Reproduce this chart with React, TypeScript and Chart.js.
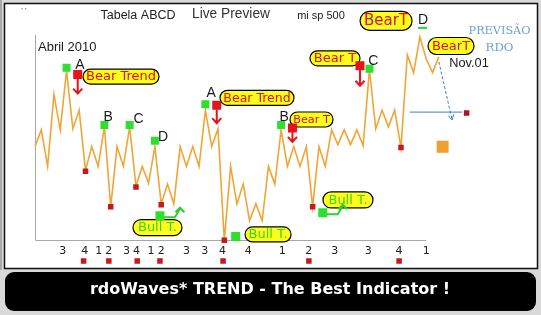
import React, { useEffect, useRef } from 'react';
import { Chart, registerables } from 'chart.js';

Chart.register(...registerables);

// ---- data (x = wave bar index, y = price level in chart units) ----
const price = [
  95, 112, 75, 148, 112, 172, 113, 132, 71, 95,
  75, 115, 34, 95, 75, 115, 55, 75, 58, 95,
  37, 57, 37, 95, 75, 95, 75, 132, 95, 113,
  0, 75, 37, 57, 20, 37, 20, 75, 57, 112,
  75, 95, 75, 95, 34, 95, 75, 112, 97, 112,
  97, 112, 96, 173, 113, 132, 115, 132, 94, 188,
  170, 206, 184, 170, 186,
];

const waveTickPos = [4.4, 7.9, 10.1, 11.7, 14.5, 16.1, 18.4, 20, 24, 26.9, 29.7, 33.8, 39.2, 43.4, 47.5, 52.8, 57.7, 62];
const waveTickText = ['3', '4', '1', '2', '3', '4', '1', '2', '3', '3', '4', '4', '1', '2', '3', '3', '4', '1'];

const pivotX = [5, 11, 15, 19, 27, 39, 53];
const pivotY = [175, 117, 117, 101, 138, 117, 174];

const letterText = ['A', 'B', 'C', 'D', 'A', 'B', 'C', 'D'];
const letterX = [7.13, 11.6, 16.4, 20.3, 27.9, 39.5, 53.6, 61.5];
const letterY = [178, 125, 123, 105, 149.5, 124.5, 181.5, 223];

const bearX = [6.77, 28.8, 40.8, 51.5];
const bearY = [168, 137, 114, 177];

const bullX = [19.8, 31.8, 45.6];
const bullY = [25, 4, 28];

const troughX = [8, 12, 16, 20, 30, 44, 58];
const troughY = [70, 34, 54, 36, 0, 34, 94];

const countMarkX = [7.7, 11.7, 16.2, 19.8, 29.8, 43.4, 57.7];
const countMarkY = [-21, -21, -21, -21, -21, -21, -21];

const targetX = [68.4];
const targetY = [129];

const projX = [64.6];
const projY = [95];

const levelX = [59.4, 67.7];
const levelY = [130, 130];

const arrowX = [64.0, 66.1];
const arrowY = [181, 122];

const pillText = ['Bear Trend', 'Bear Trend', 'Bear T', 'Bear T', 'BearT', 'BearT', 'Bull T.', 'Bull T.', 'Bull T.'];
const pillX = [13.63, 35.18, 43.82, 47.54, 55.63, 65.93, 19.41, 36.93, 49.6];
const pillY = [166, 144.5, 122.5, 184.5, 222.5, 197, 13, 6, 41];

// ---- styles ----
const pillW = [76, 74, 43, 50, 52, 46, 49, 46, 50];
const pillH = [15, 15, 15, 15, 19, 17, 16, 15, 16];
const bearArrowLen = [15, 14, 10, 16];
const hookBull = [true, false, true];

const W = 541;
const H = 315;
const ORANGE = '#f0a637';
const GREEN = '#2ee02e';
const RED = '#e4141a';
const DARKRED = '#c41a1e';

const pts = (xs: number[], ys: number[]) => xs.map((x, i) => ({ x, y: ys[i] }));

function fitFont(ctx: CanvasRenderingContext2D, text: string, family: string, weight: string, size: number, maxW: number) {
  let s = size;
  ctx.font = `${weight} ${s}px ${family}`;
  while (ctx.measureText(text).width > maxW && s > 6) {
    s -= 0.25;
    ctx.font = `${weight} ${s}px ${family}`;
  }
}

function rrect(ctx: CanvasRenderingContext2D, x: number, y: number, w: number, h: number, r: number) {
  ctx.beginPath();
  ctx.moveTo(x + r, y);
  ctx.lineTo(x + w - r, y);
  ctx.arcTo(x + w, y, x + w, y + r, r);
  ctx.lineTo(x + w, y + h - r);
  ctx.arcTo(x + w, y + h, x + w - r, y + h, r);
  ctx.lineTo(x + r, y + h);
  ctx.arcTo(x, y + h, x, y + h - r, r);
  ctx.lineTo(x, y + r);
  ctx.arcTo(x, y, x + r, y, r);
  ctx.closePath();
}

function text(ctx: CanvasRenderingContext2D, t: string, x: number, y: number, color: string, family: string, weight: string, size: number, maxW: number, align: CanvasTextAlign = 'center') {
  fitFont(ctx, t, family, weight, size, maxW);
  ctx.fillStyle = color;
  ctx.textAlign = align;
  ctx.textBaseline = 'middle';
  ctx.fillText(t, x, y);
}

const decor = {
  id: 'decor',
  beforeDraw(chart: any) {
    const ctx: CanvasRenderingContext2D = chart.ctx;
    ctx.save();
    ctx.fillStyle = '#d9d9d9';
    ctx.fillRect(0, 0, W, H);
    ctx.fillStyle = '#a9a9a9';
    ctx.fillRect(0, 0, 2, 270);
    ctx.fillStyle = '#ffffff';
    ctx.fillRect(4, 3, 533, 265);
    ctx.strokeStyle = '#111';
    ctx.lineWidth = 1.5;
    ctx.strokeRect(4.5, 3.5, 533, 265);
    // banner
    rrect(ctx, 5, 272, 531, 39, 9);
    ctx.fillStyle = '#000';
    ctx.fill();
    text(ctx, 'rdoWaves* TREND - The Best Indicator !', 270, 290, '#fff', '"DejaVu Sans"', 'bold', 18, 362);
    ctx.restore();
  },
  beforeDatasetsDraw(chart: any) {
    const ctx: CanvasRenderingContext2D = chart.ctx;
    const xs = chart.scales.x;
    const ys = chart.scales.y;
    ctx.save();
    // axes
    ctx.strokeStyle = '#a8a8a8';
    ctx.lineWidth = 1;
    ctx.beginPath();
    const x0 = Math.round(xs.getPixelForValue(0)) + 0.5;
    const y0 = Math.round(ys.getPixelForValue(0)) + 0.5;
    ctx.moveTo(x0, Math.round(ys.getPixelForValue(208)));
    ctx.lineTo(x0, y0);
    ctx.lineTo(xs.getPixelForValue(62), y0);
    ctx.stroke();
    // pills
    pillText.forEach((t, i) => {
      const cx = xs.getPixelForValue(pillX[i]);
      const cy = ys.getPixelForValue(pillY[i]);
      const w = pillW[i];
      const h = pillH[i];
      rrect(ctx, cx - w / 2, cy - h / 2, w, h, h / 2);
      ctx.fillStyle = '#ffff1a';
      ctx.fill();
      ctx.strokeStyle = '#000';
      ctx.lineWidth = 1.2;
      ctx.stroke();
      const bull = t.startsWith('Bull');
      text(ctx, t, cx, cy + 0.5, bull ? '#33d62a' : '#e01010', '"DejaVu Sans"', 'normal', h >= 19 ? 15 : 13, w - 6);
    });
    ctx.restore();
  },
  afterDatasetsDraw(chart: any) {
    const ctx: CanvasRenderingContext2D = chart.ctx;
    const xs = chart.scales.x;
    const ys = chart.scales.y;
    ctx.save();
    // red down arrows under bear squares
    ctx.strokeStyle = RED;
    ctx.lineWidth = 2;
    bearX.forEach((bx, i) => {
      const x = xs.getPixelForValue(bx);
      const y = ys.getPixelForValue(bearY[i]) + 4;
      const y1 = y + bearArrowLen[i];
      ctx.beginPath();
      ctx.moveTo(x, y);
      ctx.lineTo(x, y1);
      ctx.moveTo(x - 4.5, y1 - 5);
      ctx.lineTo(x, y1);
      ctx.lineTo(x + 4.5, y1 - 5);
      ctx.stroke();
    });
    // green hooked arrows after bull squares
    ctx.strokeStyle = '#2fcf2f';
    ctx.lineWidth = 2;
    bullX.forEach((bx, i) => {
      if (!hookBull[i]) return;
      const cx = xs.getPixelForValue(bx);
      const cy = ys.getPixelForValue(bullY[i]);
      ctx.beginPath();
      ctx.moveTo(cx + 4, cy + 1.5);
      ctx.lineTo(cx + 15, cy + 1.5);
      ctx.lineTo(cx + 20, cy - 7);
      ctx.moveTo(cx + 15.5, cy - 3.5);
      ctx.lineTo(cx + 20, cy - 8);
      ctx.lineTo(cx + 24.5, cy - 3.5);
      ctx.stroke();
    });
    // blue arrow head
    {
      const ax0 = xs.getPixelForValue(arrowX[0]);
      const ay0 = ys.getPixelForValue(arrowY[0]);
      const ax1 = xs.getPixelForValue(arrowX[1]);
      const ay1 = ys.getPixelForValue(arrowY[1]);
      const ang = Math.atan2(ay1 - ay0, ax1 - ax0);
      ctx.strokeStyle = '#3b7fc4';
      ctx.lineWidth = 1;
      ctx.beginPath();
      ctx.moveTo(ax1 - 6 * Math.cos(ang - 0.5), ay1 - 6 * Math.sin(ang - 0.5));
      ctx.lineTo(ax1, ay1);
      ctx.lineTo(ax1 - 6 * Math.cos(ang + 0.5), ay1 - 6 * Math.sin(ang + 0.5));
      ctx.stroke();
    }
    // wave letters
    letterText.forEach((t, i) => {
      const x = xs.getPixelForValue(letterX[i]);
      const y = ys.getPixelForValue(letterY[i]);
      text(ctx, t, x, y, '#1a1a1a', '"Liberation Sans"', 'normal', 14, 20);
    });
    // green underline under last D
    {
      const x = xs.getPixelForValue(letterX[7]);
      const y = ys.getPixelForValue(letterY[7]);
      ctx.fillStyle = '#2fcf2f';
      ctx.fillRect(x - 5, y + 6.5, 9, 2);
    }
    // header and notes
    text(ctx, 'Tabela ABCD', 138, 15.5, '#222', '"Liberation Sans"', 'normal', 13, 76);
    text(ctx, 'Live Preview', 231, 14, '#333', '"Liberation Sans"', 'normal', 15, 79);
    text(ctx, 'mi sp 500', 321, 16, '#222', '"Liberation Sans"', 'normal', 11, 48);
    text(ctx, "' '", 24, 11, '#444', '"Liberation Sans"', 'normal', 8, 12);
    text(ctx, 'Abril 2010', 38, 47.5, '#1a1a1a', '"Liberation Sans"', 'normal', 13, 60, 'left');
    text(ctx, 'PREVISÃO', 499.5, 31, '#6b9fd0', '"DejaVu Serif"', 'normal', 13, 63);
    text(ctx, 'RDO', 499.5, 47.5, '#6b9fd0', '"DejaVu Serif"', 'normal', 13, 28);
    text(ctx, 'Nov.01', 469, 63, '#1a1a1a', '"Liberation Sans"', 'normal', 13, 40);
    ctx.restore();
  },
};

export default function App() {
  const ref = useRef<HTMLCanvasElement>(null);
  useEffect(() => {
    const canvas = ref.current;
    if (!canvas) return;
    const sq = (side: number) => side / (2 * Math.SQRT1_2);
    const chart = new Chart(canvas, {
      type: 'scatter',
      data: {
        datasets: [
          { label: 'bear', data: pts(bearX, bearY), pointStyle: 'rect', pointRadius: sq(9), backgroundColor: RED, borderColor: RED, borderWidth: 0, showLine: false },
          { label: 'pivot', data: pts(pivotX, pivotY), pointStyle: 'rect', pointRadius: sq(8), backgroundColor: GREEN, borderColor: GREEN, borderWidth: 0, showLine: false },
          { label: 'bull', data: pts(bullX, bullY), pointStyle: 'rect', pointRadius: sq(9), backgroundColor: GREEN, borderColor: GREEN, borderWidth: 0, showLine: false },
          { label: 'trough', data: pts(troughX, troughY), pointStyle: 'rect', pointRadius: sq(5.5), backgroundColor: DARKRED, borderColor: DARKRED, borderWidth: 0, showLine: false },
          { label: 'count', data: pts(countMarkX, countMarkY), pointStyle: 'rect', pointRadius: sq(5.5), backgroundColor: DARKRED, borderColor: DARKRED, borderWidth: 0, showLine: false },
          { label: 'target', data: pts(targetX, targetY), pointStyle: 'rect', pointRadius: sq(5.5), backgroundColor: '#b0141c', borderColor: '#b0141c', borderWidth: 0, showLine: false },
          { label: 'projection', data: pts(projX, projY), pointStyle: 'rect', pointRadius: sq(12), backgroundColor: '#f0a030', borderColor: '#f0a030', borderWidth: 0, showLine: false },
          { label: 'level', data: pts(levelX, levelY), showLine: true, borderColor: '#3b7fc4', borderWidth: 1, pointRadius: 0 },
          { label: 'forecast', data: pts(arrowX, arrowY), showLine: true, borderColor: '#3b7fc4', borderWidth: 1, borderDash: [3, 2], pointRadius: 0 },
          { label: 'price', data: price.map((v, i) => ({ x: i, y: v })), showLine: true, borderColor: ORANGE, borderWidth: 1.6, pointRadius: 0, tension: 0 },
        ] as any,
      },
      options: {
        animation: false,
        responsive: true,
        maintainAspectRatio: false,
        events: [],
        layout: { padding: { left: 35, top: 5, right: 61, bottom: 47 } },
        plugins: { legend: { display: false }, tooltip: { enabled: false } },
        scales: {
          x: {
            type: 'linear',
            position: { y: 0 } as any,
            bounds: 'data',
            afterDataLimits: (s: any) => { s.min = 0; s.max = 70.52; },
            afterBuildTicks: (s: any) => { s.ticks = waveTickPos.map((v) => ({ value: v })); },
            ticks: {
              autoSkip: false,
              maxRotation: 0,
              padding: 4,
              color: '#222',
              font: { family: '"DejaVu Sans"', size: 11 },
              callback: (_v: any, i: number) => waveTickText[i] ?? '',
            },
            grid: { display: false, drawTicks: false },
            border: { display: false },
          },
          y: { type: 'linear', display: false, min: -28, max: 235 },
        } as any,
      },
      plugins: [decor as any],
    });
    return () => chart.destroy();
  }, []);
  return (
    <div style={{ position: 'fixed', left: 0, top: 0, width: W, height: H }}>
      <canvas ref={ref} />
    </div>
  );
}
